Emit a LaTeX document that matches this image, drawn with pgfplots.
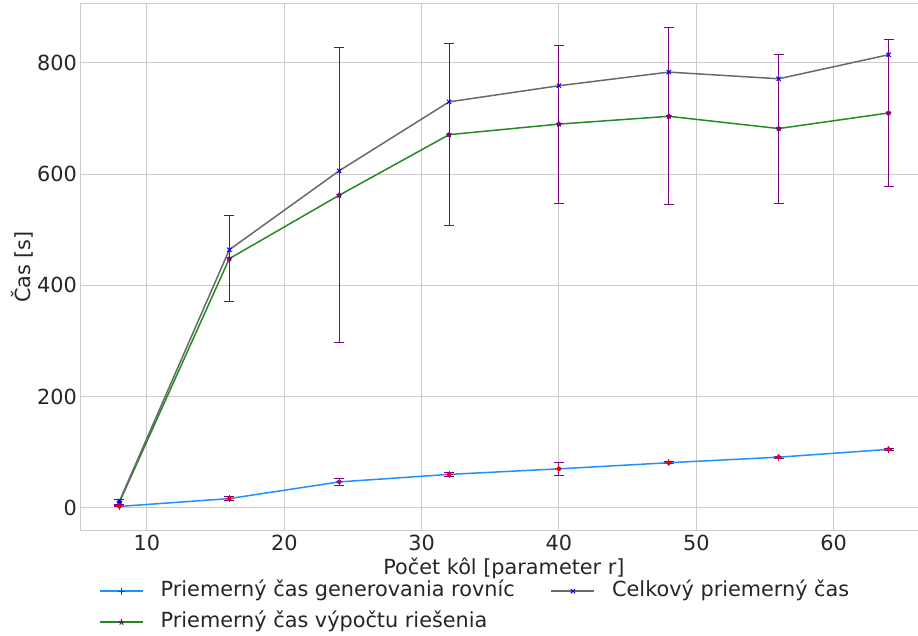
\documentclass[border=0pt]{standalone}
\usepackage{pgfplots}
\pgfplotsset{compat=1.18}
\usepackage{pgfplotstable}
\usepackage{fontspec}
\setmainfont{DejaVu Sans}
\definecolor{txt}{HTML}{262626}
\definecolor{gridc}{HTML}{CCCCCC}
\definecolor{dodger}{HTML}{1E90FF}
\definecolor{forest}{HTML}{228B22}
\definecolor{dimg}{HTML}{696969}
\definecolor{purp}{HTML}{800080}
\newcommand{\bigf}{\fontsize{20.8pt}{25pt}\selectfont}
\pgfplotstableread{
x gen egen solve esolve total
8 2.4 1 10 4 12
16 16.5 3 448 77 464
24 46.5 7 562 265 606
32 60 3 671 164 730
40 70 12 690 142 759
48 81 2 704 159 783.5
56 91 2 682 134 771.5
64 105 2 710 132 814.7
}\datatable
\begin{document}
\begin{tikzpicture}
\useasboundingbox (-81pt,-105pt) rectangle (837pt,530pt);
\begin{axis}[
  scale only axis,
  width=846pt, height=526pt,
  xmin=5.2, xmax=66.8, ymin=-40, ymax=906,
  xtick={10,20,30,40,50,60},
  ytick={0,200,400,600,800},
  grid=major,
  grid style={gridc, line width=1pt},
  axis line style={gridc, line width=1pt},
  major tick length=0pt,
  /pgf/number format/assume math mode=true,
  tick label style={font=\bigf, text=txt},
  xticklabel style={anchor=base, inner sep=0pt, yshift=-20.5pt},
  yticklabel style={anchor=east, inner sep=0pt, xshift=-4pt},
  xlabel={Počet kôl [parameter r]},
  ylabel={Čas [s]},
  every axis x label/.style={at={(axis description cs:0.5,0)}, anchor=center, yshift=-38pt, font=\bigf, text=txt},
  every axis y label/.style={at={(axis description cs:0,0.5)}, xshift=-59pt, anchor=center, rotate=90, font=\bigf, text=txt},
  legend columns=2,
  legend style={at={(axis description cs:0,0)}, anchor=north west, xshift=15pt, yshift=-49pt,
    draw=none, fill=none, font=\bigf, text=txt,
    nodes={inner sep=0pt, text height=15pt, text depth=5pt},
    cells={anchor=west}, row sep=11pt,
    /tikz/every odd column/.append style={column sep=17pt},
    /tikz/every even column/.append style={column sep=36pt}},
  legend image code/.code={\draw[mark repeat=2,mark phase=2,#1] plot coordinates {(0pt,0pt) (21.5pt,0pt) (43pt,0pt)};},
]
% error bars drawn separately in purple
\addplot[forget plot, purp, only marks, mark=none,
  error bars/.cd, y dir=both, y explicit,
  error bar style={purp, line width=1pt},
  error mark options={rotate=90, mark size=5pt, purp, line width=1pt}]
  table[x=x, y=gen, y error=egen] {\datatable};
\addplot[forget plot, dodger, line width=1.5pt, mark=+, mark size=3.5pt,
  mark options={red, line width=1pt}]
  table[x=x, y=gen] {\datatable};
\addplot[forget plot, purp, only marks, mark=none,
  error bars/.cd, y dir=both, y explicit,
  error bar style={purp, line width=1pt},
  error mark options={rotate=90, mark size=5pt, purp, line width=1pt}]
  table[x=x, y=solve, y error=esolve] {\datatable};
\addplot[forget plot, forest, line width=1.5pt, mark=star, mark size=3pt,
  mark options={purp, fill=purp, line width=1pt}]
  table[x=x, y=solve] {\datatable};
\addplot[forget plot, dimg, line width=1.5pt, mark=x, mark size=3pt,
  mark options={blue, line width=1pt}]
  table[x=x, y=total] {\datatable};
\addlegendimage{dodger, line width=1.5pt, mark=+, mark size=3.5pt, mark options={red, line width=1pt}}
\addlegendentry{Priemerný čas generovania rovníc}
\addlegendimage{dimg, line width=1.5pt, mark=x, mark size=3pt, mark options={blue, line width=1pt}}
\addlegendentry{Celkový priemerný čas}
\addlegendimage{forest, line width=1.5pt, mark=star, mark size=3pt, mark options={purp, fill=purp, line width=1pt}}
\addlegendentry{Priemerný čas výpočtu riešenia}
\end{axis}
\end{tikzpicture}
\end{document}
